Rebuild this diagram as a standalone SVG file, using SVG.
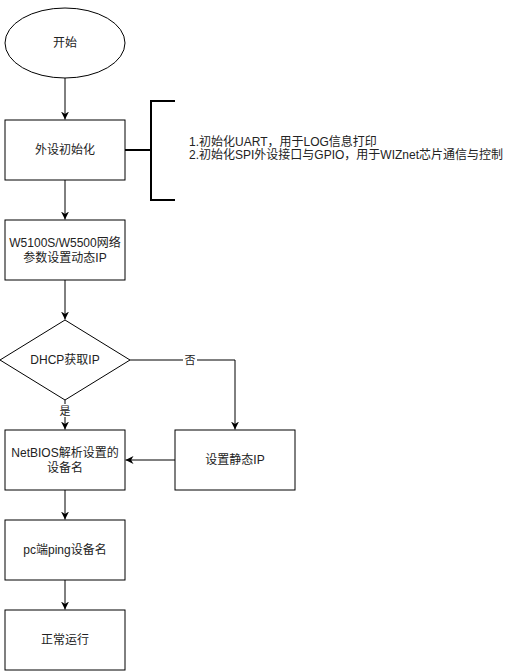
<svg xmlns="http://www.w3.org/2000/svg" width="513" height="671" viewBox="0 0 513 671">
<style>
.shape{fill:#ffffff;stroke:#000000;stroke-width:1}
.t{font-family:"Liberation Sans","Noto Sans CJK SC",sans-serif;font-size:12px;fill:#222222;text-anchor:middle}
.tl{font-family:"Liberation Sans","Noto Sans CJK SC",sans-serif;font-size:12px;fill:#222222}
.el{font-family:"Liberation Sans","Noto Sans CJK SC",sans-serif;font-size:11px;fill:#222222;text-anchor:middle}
.c{fill:none;stroke:#000000;stroke-width:1}
.br{fill:none;stroke:#000000;stroke-width:2}
</style>
<defs>
<marker id="arr" viewBox="0 0 10 10" refX="10" refY="5" markerWidth="8" markerHeight="8" markerUnits="userSpaceOnUse" orient="auto">
<path d="M0,0 L10,5 L0,10 L3,5 z" fill="#000000"/>
</marker>
</defs>
<rect width="513" height="671" fill="#ffffff"/>
<g id="connectors">
<line class="c" x1="65" y1="78" x2="65" y2="119.5" marker-end="url(#arr)"/>
<line class="c" x1="65" y1="180" x2="65" y2="219.5" marker-end="url(#arr)"/>
<line class="c" x1="65" y1="280" x2="65" y2="319.5" marker-end="url(#arr)"/>
<line class="c" x1="65" y1="400" x2="65" y2="429.5" marker-end="url(#arr)"/>
<polyline class="c" points="130,360 235,360 235,429.5" marker-end="url(#arr)"/>
<line class="c" x1="175" y1="460" x2="125.5" y2="460" marker-end="url(#arr)"/>
<line class="c" x1="65" y1="490" x2="65" y2="519.5" marker-end="url(#arr)"/>
<line class="c" x1="65" y1="580" x2="65" y2="609.5" marker-end="url(#arr)"/>
<rect x="58" y="404" width="14" height="13" fill="#ffffff"/>
<text class="el" x="65" y="414.5">是</text>
<rect x="183" y="354" width="14" height="13" fill="#ffffff"/>
<text class="el" x="190" y="364">否</text>
</g>
<g id="start">
<ellipse class="shape" cx="65" cy="43" rx="60" ry="35"/>
<text class="t" x="65" y="47">开始</text>
</g>
<g id="init">
<rect class="shape" x="5" y="120" width="120" height="60"/>
<text class="t" x="65" y="154">外设初始化</text>
</g>
<g id="note">
<line class="c" x1="125" y1="150" x2="151" y2="150" style="stroke-width:2"/>
<polyline class="br" points="175,101 151,101 151,200 175,200"/>
<text class="tl" x="189" y="146">1.初始化UART，用于LOG信息打印</text>
<text class="tl" x="189" y="159">2.初始化SPI外设接口与GPIO，用于WIZnet芯片通信与控制</text>
</g>
<g id="netparam">
<rect class="shape" x="5" y="220" width="120" height="60"/>
<text class="t" x="65" y="247">W5100S/W5500网络</text>
<text class="t" x="65" y="261.5">参数设置动态IP</text>
</g>
<g id="dhcp">
<polygon class="shape" points="65,320 130,360 65,400 0,360"/>
<text class="t" x="65" y="364">DHCP获取IP</text>
</g>
<g id="netbios">
<rect class="shape" x="5" y="430" width="120" height="60"/>
<text class="t" x="65" y="457">NetBIOS解析设置的</text>
<text class="t" x="65" y="471.5">设备名</text>
</g>
<g id="static">
<rect class="shape" x="175" y="430" width="120" height="60"/>
<text class="t" x="235" y="464">设置静态IP</text>
</g>
<g id="ping">
<rect class="shape" x="5" y="520" width="120" height="60"/>
<text class="t" x="65" y="554">pc端ping设备名</text>
</g>
<g id="run">
<rect class="shape" x="5" y="610" width="120" height="60"/>
<text class="t" x="65" y="644">正常运行</text>
</g>
</svg>
